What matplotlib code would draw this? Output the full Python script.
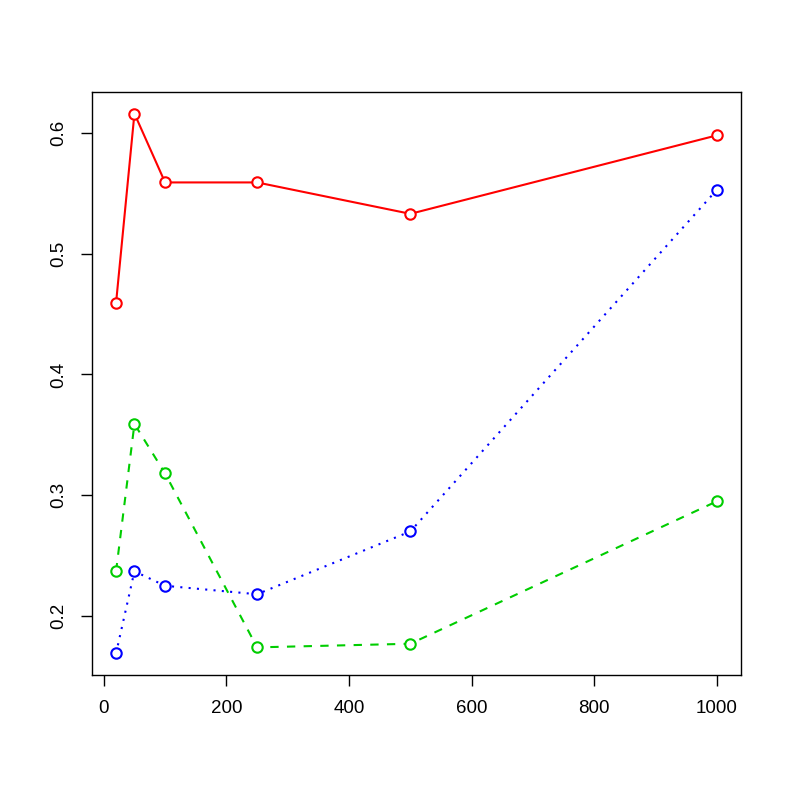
import matplotlib
matplotlib.use("Agg")
import matplotlib.pyplot as plt

x = [20, 50, 100, 250, 500, 1000]
red_vals = [0.459, 0.616, 0.559, 0.559, 0.533, 0.598]
green_vals = [0.237, 0.359, 0.318, 0.174, 0.177, 0.295]
blue_vals = [0.169, 0.237, 0.225, 0.218, 0.270, 0.553]
xticks = [0, 200, 400, 600, 800, 1000]
yticks = [0.2, 0.3, 0.4, 0.5, 0.6]

plt.rcParams['font.family'] = ['Liberation Sans', 'DejaVu Sans']
fig = plt.figure(figsize=(7.89, 7.89), dpi=100)
ax = fig.add_axes([92/789, 1-675/789, (741-92)/789, (675-92)/789])

for vals, col, ls in [(red_vals, '#FF0000', '-'), (green_vals, '#00CD00', (0, (4, 4))), (blue_vals, '#0000FF', (0, (1, 3)))]:
    ax.plot(x, vals, color=col, linestyle=ls, linewidth=1.5, zorder=2)
    ax.plot(x, vals, linestyle='none', marker='o', markersize=7.5, markerfacecolor='white',
            markeredgecolor=col, markeredgewidth=1.5, zorder=3)

allv = red_vals + green_vals + blue_vals
lo, hi = min(allv), max(allv)
pad = (hi - lo) * 0.04
ax.set_ylim(lo - pad, hi + pad)
xp = (max(x) - min(x)) * 0.04
ax.set_xlim(min(x) - xp, max(x) + xp)
ax.set_xticks(xticks)
ax.set_xticklabels([str(t) for t in xticks])
ax.set_yticks(yticks)
ax.set_yticklabels([f"{t:.1f}" for t in yticks], rotation=90, va='center')
ax.tick_params(direction='out', length=8, width=1, labelsize=13.5)
ax.tick_params(axis='x', pad=10)
ax.tick_params(axis='y', pad=10)
for s in ax.spines.values():
    s.set_linewidth(1)
fig.savefig('out.png', dpi=100)
